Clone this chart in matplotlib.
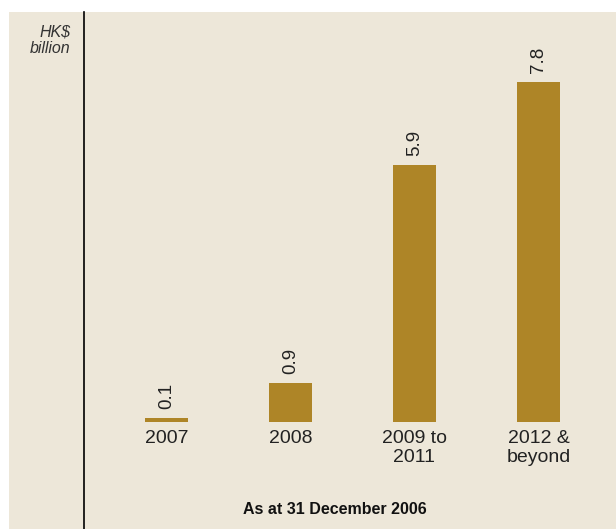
import matplotlib.pyplot as plt

categories = ["2007", "2008", "2009 to\n2011", "2012 &\nbeyond"]
values = [0.1, 0.9, 5.9, 7.8]
value_labels = ["0.1", "0.9", "5.9", "7.8"]

plt.rcParams["font.family"] = ["Liberation Sans", "DejaVu Sans"]

bg = "#ede7d9"
bar_color = "#ae8527"
text_color = "#222222"

fig = plt.figure(figsize=(6.16, 5.29), dpi=100, facecolor="white")

# beige panel, leaving a thin white strip on the top and left
bg_ax = fig.add_axes([9 / 616, 0, 1 - 9 / 616, 1 - 12 / 529], zorder=0)
bg_ax.set_facecolor(bg)
for s in bg_ax.spines.values():
    s.set_visible(False)
bg_ax.set_xticks([])
bg_ax.set_yticks([])

ax = fig.add_axes([84 / 616, 0, 532 / 616, 1 - 12 / 529], zorder=1)
ax.set_facecolor("none")

x = list(range(len(categories)))
ax.bar(x, values, width=0.347, color=bar_color, zorder=2)

for xi, v, lab in zip(x, values, value_labels):
    ax.text(xi, v + 0.2, lab, rotation=90, ha="center", va="bottom",
            fontsize=13.5, color=text_color)

for xi, cat in zip(x, categories):
    ax.text(xi, -0.18, cat, ha="center", va="top", fontsize=14,
            color=text_color, linespacing=1.15)

ax.set_xlim(-0.665, 3.625)
ax.set_ylim(-2.454, 9.40)

for side in ["top", "right", "bottom"]:
    ax.spines[side].set_visible(False)
ax.spines["left"].set_color("black")
ax.spines["left"].set_linewidth(1.2)
ax.set_xticks([])
ax.set_yticks([])

fig.text(70 / 616, 1 - 24 / 529, "HK$\nbillion", ha="right", va="top",
         fontsize=11.5, style="italic", color="#333333", linespacing=1.2)

fig.text(335 / 616, 1 - 510 / 529, "As at 31 December 2006", ha="center",
         va="center", fontsize=11.5, fontweight="bold", color="#111111")

fig.savefig("out.png", dpi=100, facecolor="white")
